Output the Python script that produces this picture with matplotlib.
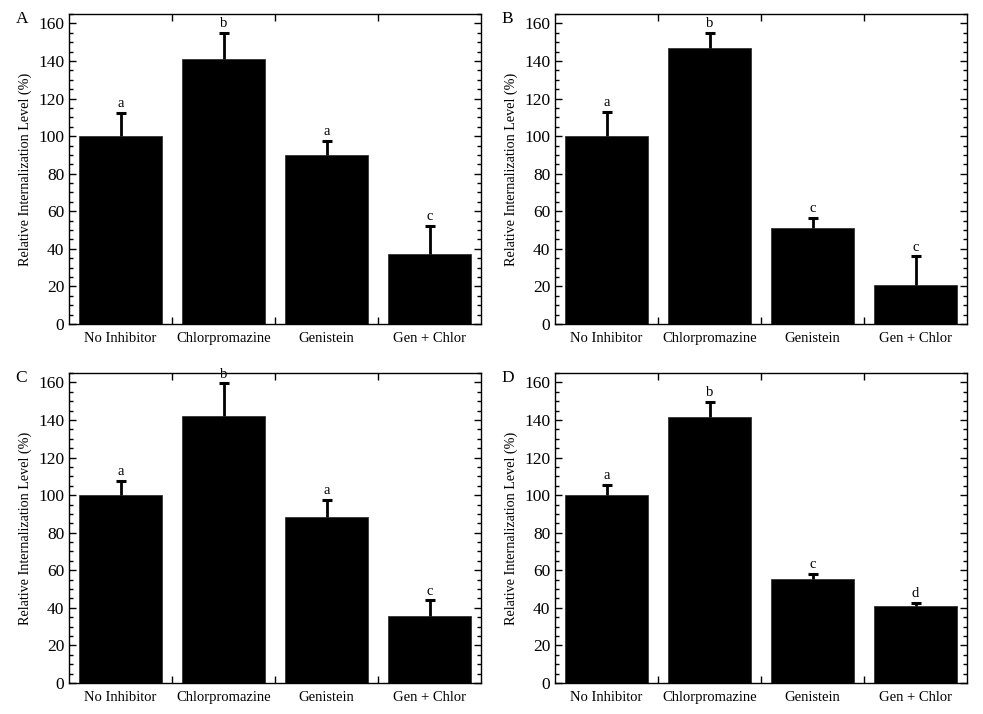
import matplotlib
matplotlib.use("Agg")
import matplotlib.pyplot as plt
from matplotlib.ticker import MultipleLocator, FixedLocator

plt.rcParams['font.family'] = ['Liberation Serif', 'DejaVu Serif']

categories = ["No Inhibitor", "Chlorpromazine", "Genistein", "Gen + Chlor"]
panel_names = ["A", "B", "C", "D"]

means_A = [100, 141, 90, 37]
upper_A = [112.5, 155, 97.5, 52]
letters_A = ["a", "b", "a", "c"]

means_B = [100, 147, 51, 20.5]
upper_B = [113, 155, 56.5, 36]
letters_B = ["a", "b", "c", "c"]

means_C = [100, 142.3, 88.3, 35.7]
upper_C = [107.7, 159.5, 97.4, 44]
letters_C = ["a", "b", "a", "c"]

means_D = [100, 141.5, 55.3, 40.8]
upper_D = [105.5, 149.5, 58.2, 42.5]
letters_D = ["a", "b", "c", "d"]

panels = [
    (means_A, upper_A, letters_A),
    (means_B, upper_B, letters_B),
    (means_C, upper_C, letters_C),
    (means_D, upper_D, letters_D),
]

fig = plt.figure(figsize=(9.83, 7.14), dpi=100)
W, H = 983, 714
boxes = [
    (69, 14, 481, 324),
    (555, 14, 967, 324),
    (69, 373, 481, 683),
    (555, 373, 967, 683),
]

for (means, upper, letters), name, (x0, y0, x1, y1) in zip(panels, panel_names, boxes):
    ax = fig.add_axes([x0 / W, 1 - y1 / H, (x1 - x0) / W, (y1 - y0) / H])
    x = list(range(len(categories)))
    ax.bar(x, means, width=0.81, color="black", edgecolor="#333333", linewidth=0.6, zorder=2)
    ax.vlines(x, means, upper, colors="black", linewidth=2.0, zorder=3)
    ax.plot(x, upper, ls="none", marker="_", ms=7, mew=2.2, color="black", zorder=3)
    for xi, u, lab in zip(x, upper, letters):
        ax.text(xi, u + 1.5, lab, ha="center", va="bottom", fontsize=10.5)
    ax.set_xlim(-0.5, 3.5)
    ax.set_ylim(0, 165)
    ax.yaxis.set_major_locator(MultipleLocator(20))
    ax.yaxis.set_minor_locator(MultipleLocator(5))
    ax.xaxis.set_major_locator(FixedLocator([0.5, 1.5, 2.5]))
    ax.set_xticklabels([])
    for xi, c in zip(x, categories):
        ax.text(xi, -4, c, ha="center", va="top", fontsize=10.5,
                transform=ax.transData)
    ax.tick_params(axis="both", which="major", direction="in", length=5, width=1,
                   top=True, right=True, labelsize=12.5)
    ax.tick_params(axis="y", which="minor", direction="in", length=3, width=1,
                   left=True, right=True)
    ax.set_ylabel("Relative Internalization Level (%)", fontsize=10.2, labelpad=4)
    for s in ax.spines.values():
        s.set_linewidth(1.0)
    ax.text(-0.13, 0.985, name, transform=ax.transAxes, fontsize=12.5,
            ha="left", va="center")

fig.savefig("out.png", dpi=100)
